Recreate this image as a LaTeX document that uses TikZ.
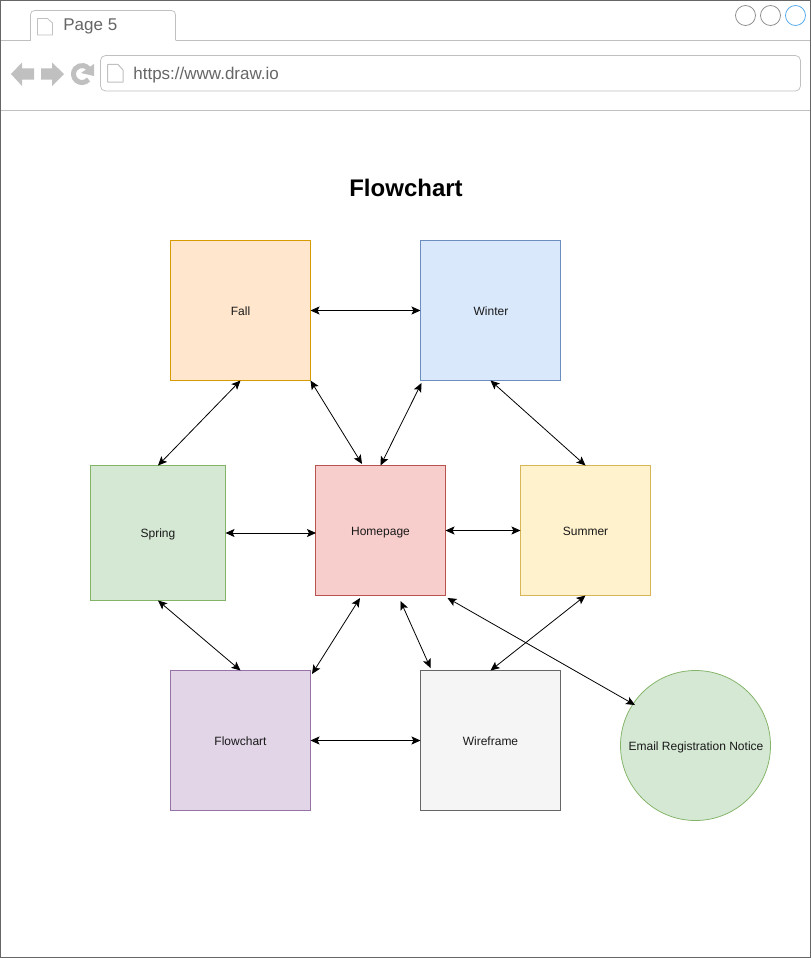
\documentclass[tikz,border=0pt]{standalone}
\usepackage{fontspec}
\setmainfont{Liberation Sans}
\usetikzlibrary{arrows.meta}
\definecolor{chrome}{HTML}{C0C0C0}
\definecolor{framegray}{HTML}{666666}
\definecolor{dotgray}{HTML}{888888}
\definecolor{fallfill}{HTML}{FFE6CC}
\definecolor{falldraw}{HTML}{D79B00}
\definecolor{winterfill}{HTML}{DAE8FC}
\definecolor{winterdraw}{HTML}{6C8EBF}
\definecolor{greenfill}{HTML}{D5E8D4}
\definecolor{greendraw}{HTML}{82B366}
\definecolor{homefill}{HTML}{F8CECC}
\definecolor{homedraw}{HTML}{B85450}
\definecolor{summerfill}{HTML}{FFF2CC}
\definecolor{summerdraw}{HTML}{D6B656}
\definecolor{flowfill}{HTML}{E1D5E7}
\definecolor{flowdraw}{HTML}{9673A6}
\definecolor{wirefill}{HTML}{F5F5F5}
\definecolor{dotblue}{HTML}{4DA6E8}
\begin{document}
\begin{tikzpicture}[x=1pt,y=-1pt,>={Stealth[length=9pt,width=8pt,inset=2pt]},line width=0.75pt]
  \tikzstyle{page}=[draw=none, anchor=center, minimum width=140pt, minimum height=140pt, inner sep=0pt, outer sep=0pt, text height=10pt, text depth=1pt, font=\fontsize{12}{14}\selectfont, text=black!90]
  \tikzstyle{lab}=[anchor=west, inner sep=0pt, text=black!60, font=\fontsize{17}{20}\selectfont]
  \tikzstyle{dot}=[draw=dotgray, circle, minimum size=20pt, inner sep=0pt]
  \tikzstyle{link}=[<->, line width=0.8pt]
  \tikzstyle{glyph}=[fill=chrome, draw=none]
  \tikzstyle{sheet}=[draw=chrome, fill=white, line width=1pt, line join=round]
  \useasboundingbox (0,0) rectangle (811,958);

  % browser window
  \node[draw=framegray, fill=white, line width=1pt, anchor=north west, outer sep=0pt, minimum width=810pt, minimum height=957pt, inner sep=0pt] (window) at (0.5,0.5) {};
  \coordinate (barL) at (1,40.5);
  \coordinate (barR) at (810,40.5);
  \coordinate (ruleL) at (1,110.5);
  \coordinate (ruleR) at (810,110.5);
  \coordinate (tabL) at (30.5,40.5);
  \coordinate (tabR) at (175.5,40.5);
  \draw[chrome] (barL) -- (tabL) (tabR) -- (barR);
  \draw[chrome] (ruleL) -- (ruleR);
  \draw[chrome, rounded corners=4pt] (tabL) -- (30.5,10.5) -- (175.5,10.5) -- (tabR);
  \node[draw=chrome, rounded corners=5pt, anchor=north west, outer sep=0pt, minimum width=700pt, minimum height=35.5pt, inner sep=0pt] (address) at (100.5,55.5) {};

  \node[lab] (tabtext) at (63,26.5) {Page 5};
  \node[lab] (urltext) at (133,75) {https://www.draw.io};

  \node[dot] (dotA) at (745.5,15.5) {};
  \node[dot] (dotB) at (770.5,15.5) {};
  \node[dot, draw=dotblue] (dotC) at (795.5,15.5) {};

  % sheet icons, back, forward, reload
  \draw[sheet, line width=0.75pt] (37.5,19) -- (37.5,35) -- (52.5,35) -- (52.5,23) -- (47.5,18.5) -- (37.5,18.5) -- cycle;
  \draw[sheet] (107.5,65) -- (107.5,82) -- (123,82) -- (123,70) -- (118,64.5) -- (107.5,64.5) -- cycle;
  \fill[glyph] (11,74) -- (22,62.5) -- (22,68.5) -- (34,68.5) -- (34,79.5) -- (22,79.5) -- (22,86) -- cycle;
  \fill[glyph] (64,74) -- (52,62.5) -- (52,68.5) -- (41,68.5) -- (41,79.5) -- (52,79.5) -- (52,86) -- cycle;
  \draw[chrome, line width=5pt] (88.5,79.5) arc (40:320:8.5);
  \fill[glyph] (81,73) -- (94,64) -- (94,76) -- cycle;

  \node[font=\bfseries\fontsize{24}{28}\selectfont, text=black] (title) at (406,188) {Flowchart};

  % pages
  \node[page, fill=fallfill, draw=falldraw] (fall) at (240.5,310.5) {Fall};
  \node[page, fill=winterfill, draw=winterdraw] (winter) at (490.5,310.5) {\hspace{1pt}Winter};
  \node[page, fill=greenfill, draw=greendraw, minimum width=135pt, minimum height=135pt] (spring) at (158,533) {Spring};
  \node[page, fill=homefill, draw=homedraw, minimum width=130pt, minimum height=130pt] (home) at (380.5,530.5) {Homepage};
  \node[page, fill=summerfill, draw=summerdraw, minimum width=130pt, minimum height=130pt] (summer) at (585.5,530.5) {Summer};
  \node[page, fill=flowfill, draw=flowdraw] (flow) at (240.5,740.5) {Flowchart};
  \node[page, fill=wirefill, draw=framegray] (wire) at (490.5,740.5) {Wireframe};
  \node[page, circle, fill=greenfill, draw=greendraw, minimum width=150pt, minimum height=150pt] (email) at (695.5,745.5) {\hspace{1pt}Email Registration Notice};

  % free ends beside the pages
  \coordinate (fallHome) at (362,464);
  \coordinate (winterHome) at (421.5,383);
  \coordinate (homeFlow) at (360,598);
  \coordinate (flowHome) at (312,674);
  \coordinate (homeWire) at (400.5,601);
  \coordinate (wireHome) at (430.5,668);
  \coordinate (homeMail) at (447.5,598);
  \coordinate (mailHome) at (635,705);
  \coordinate (springHome) at (316,533);

  \path[link] (fall.east) edge (winter.west)
        (fall.south) edge (spring.north)
        (fall.south east) edge (fallHome)
        (winterHome) edge (home.north)
        (winter.south) edge (summer.north)
        (spring.east) edge (springHome)
        (home.east) edge (summer.west)
        (spring.south) edge (flow.north)
        (homeFlow) edge (flowHome)
        (homeWire) edge (wireHome)
        (summer.south) edge (wire.north)
        (homeMail) edge (mailHome)
        (flow.east) edge (wire.west);
\end{tikzpicture}
\end{document}
